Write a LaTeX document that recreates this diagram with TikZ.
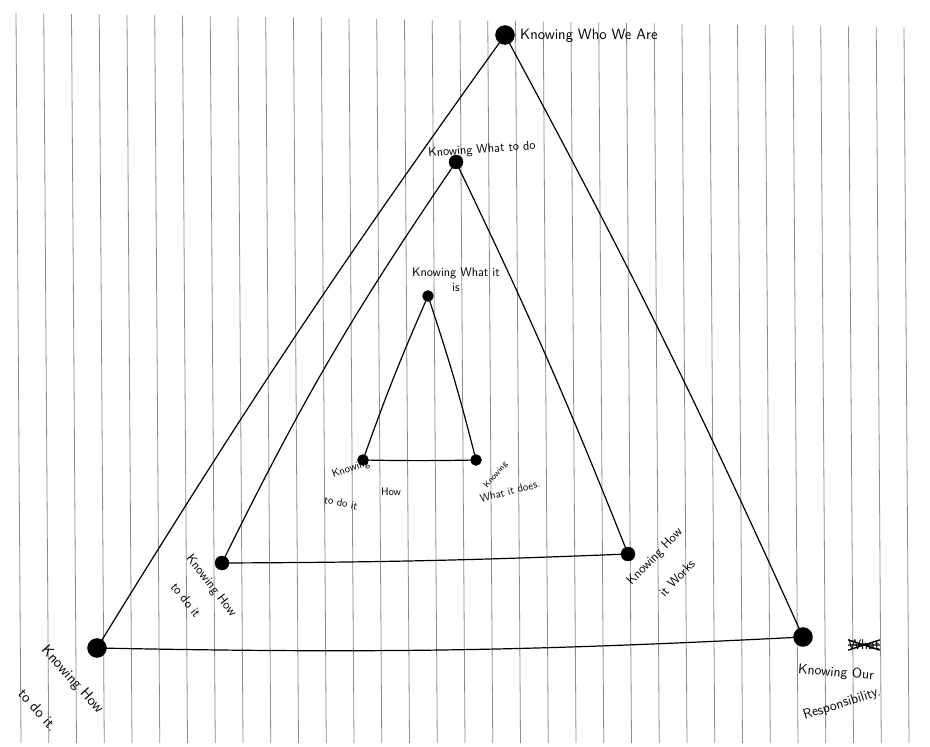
\documentclass[tikz,border=0pt]{standalone}
\usepackage{fontspec}
\begin{document}
\begin{tikzpicture}[x=1pt,y=-1pt,
  rule/.style={draw=black!45,line width=0.8pt},
  edge/.style={draw=black,line width=1.2pt,line cap=round},
  dotbig/.style={circle,fill=black,draw=black,inner sep=0pt,minimum size=19pt},
  dotmid/.style={circle,fill=black,draw=black,inner sep=0pt,minimum size=14pt},
  dotsmall/.style={circle,fill=black,draw=black,inner sep=0pt,minimum size=11pt},
  lbl/.style={inner sep=0pt,font=\sffamily}]
\useasboundingbox (0,0) rectangle (930,747);
\fill[white] (0,0) rectangle (930,747);
% ruled paper lines
\foreach \i in {0,...,32} {
  \draw[rule] ({16+27.75*\i},{13+0.45*\i}) -- ({21+27.75*\i},743);
}
% dots
\node[dotbig] (dWho) at (505,35) {};
\node[dotbig] (dLeft) at (97,648) {};
\node[dotbig] (dRight) at (803,637) {};
\node[dotmid] (dWhat) at (456,162) {};
\node[dotmid] (dML) at (222,563) {};
\node[dotmid] (dMR) at (628,554) {};
\node[dotsmall] (dIs) at (428,296) {};
\node[dotsmall] (dIL) at (363,460) {};
\node[dotsmall] (dIR) at (476,460) {};
% outer triangle
\draw[edge] (dWho) to[bend right=2] (dLeft);
\draw[edge] (dWho) to[bend left=2] (dRight);
\draw[edge] (dLeft) to[bend right=2] (dRight);
% middle triangle
\draw[edge] (dWhat) to[bend right=4] (dML);
\draw[edge] (dWhat) to[bend left=2] (dMR);
\draw[edge] (dML) to[bend right=1] (dMR);
% inner triangle
\draw[edge] (dIs) to[bend right=2] (dIL);
\draw[edge] (dIs) to[bend left=2] (dIR);
\draw[edge] (dIL) to[bend right=1] (dIR);
% labels
\node[lbl,anchor=west,font=\sffamily\fontsize{15}{17}\selectfont] (lWho) at (520,36) {Knowing Who We Are};
\node[lbl,rotate=4,font=\sffamily\fontsize{12.5}{14}\selectfont] (lWhat) at (482,150) {Knowing What to do};
\node[lbl,align=center,font=\sffamily\fontsize{12.5}{15}\selectfont] (lIs) at (456,280) {Knowing What it\\is};
\node[lbl,rotate=18,font=\sffamily\fontsize{11}{13}\selectfont] (lIL1) at (351,469) {Knowing};
\node[lbl,font=\sffamily\fontsize{11}{13}\selectfont] (lIL2) at (391,492) {How};
\node[lbl,rotate=-12,font=\sffamily\fontsize{11}{13}\selectfont] (lIL3) at (341,503) {to do it};
\node[lbl,rotate=50,font=\sffamily\fontsize{8.5}{10}\selectfont] (lIR1) at (496,475) {Knowing};
\node[lbl,rotate=14,font=\sffamily\fontsize{11}{13}\selectfont] (lIR2) at (510,491) {What it does.};
\node[lbl,rotate=-52,font=\sffamily\fontsize{13}{15}\selectfont] (lML1) at (211,586) {Knowing How};
\node[lbl,rotate=-52,font=\sffamily\fontsize{13}{15}\selectfont] (lML2) at (186,600) {to do it};
\node[lbl,rotate=46,font=\sffamily\fontsize{13}{15}\selectfont] (lMR1) at (655,557) {Knowing How};
\node[lbl,rotate=46,font=\sffamily\fontsize{13}{15}\selectfont] (lMR2) at (677,578) {it Works};
\node[lbl,rotate=-48,font=\sffamily\fontsize{15}{17}\selectfont] (lOL1) at (72,680) {Knowing How};
\node[lbl,rotate=-48,font=\sffamily\fontsize{15}{17}\selectfont] (lOL2) at (38,710) {to do it.};
\node[lbl,font=\sffamily\fontsize{14}{16}\selectfont] (lX) at (864,645) {What};
\draw[line width=1.4pt] (lX.south west) -- (lX.north east) (lX.north west) -- (lX.south east)
  (lX.west) -- (lX.east);
\node[lbl,rotate=-5,font=\sffamily\fontsize{14}{16}\selectfont] (lOR1) at (836,673) {Knowing Our};
\node[lbl,rotate=18,font=\sffamily\fontsize{14}{16}\selectfont] (lOR2) at (842,704) {Responsibility.};
\end{tikzpicture}
\end{document}
